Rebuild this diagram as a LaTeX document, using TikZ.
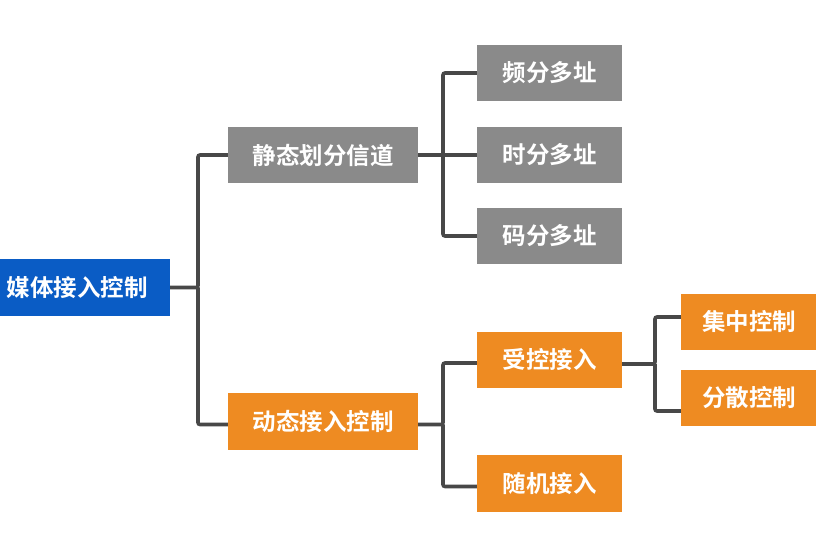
\documentclass[tikz,border=0pt]{standalone}
\usepackage{fontspec}
\newfontfamily\cjk{Noto Sans CJK SC}[BoldFont={Noto Sans CJK SC Bold}]
\definecolor{rootblue}{HTML}{0A5CC5}
\definecolor{boxgray}{HTML}{8A8A8A}
\definecolor{boxorange}{HTML}{EE8B22}
\definecolor{linegray}{HTML}{484848}
\begin{document}
\begin{tikzpicture}[x=1pt,y=1pt,
  box/.style={rectangle, minimum height=56pt, inner sep=0pt, text=white,
    font=\cjk\bfseries\fontsize{23.5}{26}\selectfont},
  rootbox/.style={box, fill=rootblue, minimum width=186pt, minimum height=57pt},
  graybox/.style={box, fill=boxgray},
  orangebox/.style={box, fill=boxorange},
  wide/.style={minimum width=190pt},
  mid/.style={minimum width=145pt},
  narrow/.style={minimum width=136pt},
  conn/.style={draw=linegray, line width=3.6pt, rounded corners=2pt}]
\useasboundingbox (0,0) rectangle (816,535);
% nodes
\node[rootbox] (root) at (77,247.5) {媒体接入控制};
\node[graybox, wide] (jt) at (323,380) {静态划分信道};
\node[orangebox, wide, minimum height=57pt] (dt) at (323,113.5) {动态接入控制};
\node[graybox, mid] (pf) at (549.5,462) {频分多址};
\node[graybox, mid] (sf) at (549.5,380) {时分多址};
\node[graybox, mid] (mf) at (549.5,299) {码分多址};
\node[orangebox, mid] (sk) at (549.5,175) {受控接入};
\node[orangebox, mid, minimum height=57pt] (sj) at (549.5,51.5) {随机接入};
\node[orangebox, narrow] (jz) at (749,213) {集中控制};
\node[orangebox, narrow] (fs) at (749,137) {分散控制};
% junction coordinates
\coordinate (j1) at (198,0);
\coordinate (j2) at (443,0);
\coordinate (j3) at (443,0);
\coordinate (j4) at (655,0);
% connectors
\draw[conn] (root.east) -- (root.east -| j1) |- (jt.west);
\draw[conn] (root.east -| j1) |- ([yshift=-3pt]dt.west);
\draw[conn] (jt.east) -- (jt.east -| j2) |- (pf.west);
\draw[conn] (jt.east -| j2) |- (mf.west);
\draw[conn] (jt.east -| j2) -- (sf.west);
\draw[conn] ([yshift=-3pt]dt.east) -- ([yshift=-3pt]dt.east -| j3) |- ([yshift=-3pt]sk.west);
\draw[conn] ([yshift=-3pt]dt.east -| j3) |- ([yshift=-3pt]sj.west);
\draw[conn] ([yshift=-4pt]sk.east) -- ([yshift=-4pt]sk.east -| j4) |- ([yshift=5pt]jz.west);
\draw[conn] ([yshift=-4pt]sk.east -| j4) |- ([yshift=-13pt]fs.west);
\end{tikzpicture}
\end{document}
